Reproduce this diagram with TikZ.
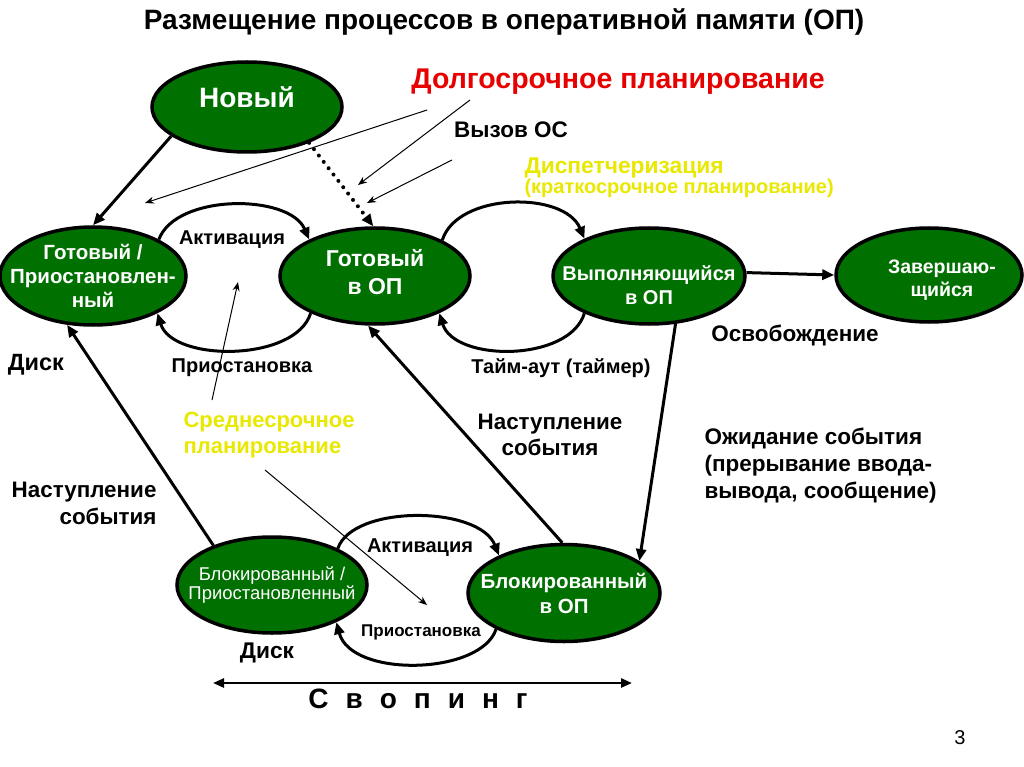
\documentclass[tikz,border=0pt]{standalone}
\usepackage{fontspec}
\setmainfont{Liberation Sans}
\usetikzlibrary{positioning}
\usetikzlibrary{shapes.geometric}
\usetikzlibrary{arrows.meta}
\definecolor{opgreen}{RGB}{0,112,0}
\definecolor{plred}{RGB}{230,0,0}
\definecolor{plyellow}{RGB}{232,232,0}

\begin{document}
\begin{tikzpicture}[x=1pt,y=-1pt,
		state/.style={ellipse, draw=black, line width=3.5pt, fill=opgreen, text=white, inner sep=-60pt, align=center},
		flow/.style={line width=3pt, -{Triangle[length=12pt,width=10pt]}},
		pointer/.style={line width=1pt, -{Stealth[length=9pt,width=7pt]}},
		lbl/.style={font=\bfseries\fontsize{20}{24}\selectfont, align=center}]
	\useasboundingbox (0,0) rectangle (1024,767);
	\node[font=\bfseries\fontsize{28}{34}\selectfont] (title) at (504,22) {Размещение процессов в оперативной памяти (ОП)};
	% states
	\node[state, minimum width=190pt, minimum height=90pt, text height=20pt, text depth=18pt, font=\bfseries\fontsize{28}{32}\selectfont] (nov) at (247,107) {Новый};
	\node[state, minimum width=186pt, minimum height=98pt, font=\bfseries\fontsize{20.5}{24}\selectfont] (gp) at (93,276) {Готовый /\\Приостановлен-\\ный};
	\node[state, minimum width=190pt, minimum height=96pt, text height=40pt, text depth=3.4pt, font=\bfseries\fontsize{23}{28}\selectfont] (gop) at (375,276) {Готовый\\в ОП};
	\node[state, minimum width=192pt, minimum height=96pt, text height=60pt, text depth=3.6pt, font=\bfseries\fontsize{20}{24}\selectfont] (vyp) at (649,276) {Выполняющийся\\в ОП};
	\node[state, minimum width=186pt, minimum height=94pt, text height=47pt, text depth=4pt, font=\bfseries\fontsize{19.5}{23}\selectfont] (zav) at (929,275) {\hspace*{26pt}Завершаю-\\\hspace*{26pt}щийся};
	\node[state, minimum width=190pt, minimum height=96pt, font=\fontsize{18.5}{19}\selectfont] (bp) at (272,585) {Блокированный /\\Приостановленный};
	\node[state, minimum width=192pt, minimum height=97pt, font=\bfseries\fontsize{20.5}{25}\selectfont] (bop) at (564,593) {Блокированный\\в ОП};
	% labels
	\node[font=\bfseries\fontsize{28.5}{32}\selectfont, text=plred] (dolg) at (618,82) {Долгосрочное планирование};
	\node[font=\bfseries\fontsize{22.5}{25}\selectfont] (vyzov) at (511,130) {Вызов ОС};
	\node[anchor=west, align=left, text=plyellow, font=\bfseries] (disp) at (521,178)
	{\fontsize{22.8}{25}\selectfont Диспетчеризация\\\fontsize{20}{24}\selectfont (краткосрочное планирование)};
	\node[lbl] (act1) at (232,240) {Активация};
	\node[lbl] (pri1) at (242,368) {Приостановка};
	\node[lbl, font=\bfseries\fontsize{23.5}{27}\selectfont] (disk1) at (36,365) {Диск};
	\node[lbl] (taim) at (561,368) {Тайм-аут (таймер)};
	\node[lbl, font=\bfseries\fontsize{22.5}{26}\selectfont] (osv) at (795,335) {Освобождение};
	\node[anchor=west, align=left, text=plyellow, font=\bfseries\fontsize{22}{26}\selectfont] (sred) at (180,435) {Среднесрочное\\планирование};
	\node[anchor=east, align=right, font=\bfseries\fontsize{22.4}{27}\selectfont] (nast1) at (160,503) {Наступление\\события};
	\node[align=center, font=\bfseries\fontsize{22.4}{26}\selectfont] (nast2) at (550,435) {Наступление\\события};
	\node[anchor=west, align=left, font=\bfseries\fontsize{22.5}{27}\selectfont] (ozh) at (701,466) {Ожидание события\\(прерывание ввода-\\вывода, сообщение)};
	\node[lbl] (act2) at (420,548) {Активация};
	\node[lbl, font=\bfseries\fontsize{17}{20}\selectfont] (pri2) at (421,632) {Приостановка};
	\node[lbl, font=\bfseries\fontsize{22.7}{26}\selectfont] (disk2) at (267,653) {Диск};
	\node[font=\bfseries\fontsize{28}{32}\selectfont] (svop) at (418,699) {\spaceskip=17pt С в о п и н г};
	\node[font=\fontsize{20}{24}\selectfont] (num) at (960,738) {3};
	% free ends
	\coordinate (a0) at (427,110); \coordinate (a1) at (145,203);
	\coordinate (b0) at (470,100); \coordinate (b1) at (358,185);
	\coordinate (c0) at (452,160); \coordinate (c1) at (367,203);
	\coordinate (d0) at (212,400); \coordinate (d1) at (238,282);
	\coordinate (e0) at (265,470); \coordinate (e1) at (427,605);
	\coordinate (s0) at (213,683); \coordinate (s1) at (632,683);
	% transitions
	\draw[flow] (nov.201) -- (gp.90);
	\draw[flow, dash pattern=on 0pt off 8pt, line cap=round, line width=4pt] (nov.330) -- (gop.92);
	\draw[flow] (gp.29) .. controls +(17,-46) and +(-20,-46) .. (gop.151);
	\draw[flow] (gop.210) .. controls +(-15,49) and +(15,49) .. (gp.330);
	\draw[flow] (gop.28) .. controls +(15,-48) and +(-20,-48) .. (vyp.150);
	\draw[flow] (vyp.210) .. controls +(-15,49) and +(15,49) .. (gop.330);
	\draw[flow] (vyp.2) -- (zav.west);
	\draw[flow] (vyp.299) -- (bop.23);
	\draw[flow] (bop.92) -- (gop.262);
	\draw[flow] (bp.146) -- (gp.242);
	\draw[flow] (bp.29) .. controls +(15,-44) and +(-20,-50) .. (bop.150);
	\draw[flow] (bop.208) .. controls +(-15,46) and +(15,56) .. (bp.330);
	\draw[line width=2.5pt, {Triangle[length=11pt,width=9pt]}-{Triangle[length=11pt,width=9pt]}] (s0) -- (s1);
	% pointers
	\draw[pointer] (a0) -- (a1);
	\draw[pointer] (b0) -- (b1);
	\draw[pointer] (c0) -- (c1);
	\draw[pointer] (d0) -- (d1);
	\draw[pointer] (e0) -- (e1);
\end{tikzpicture}
\end{document}
